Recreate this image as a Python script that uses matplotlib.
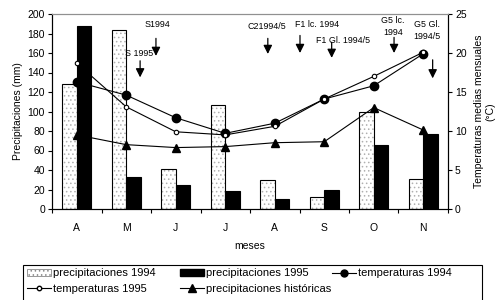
import numpy as np
import matplotlib
matplotlib.use('Agg')
from matplotlib import pyplot as plt
import matplotlib.patches as mpatches
from matplotlib.lines import Line2D

plt.rcParams['font.family'] = ['Liberation Sans', 'DejaVu Sans']
plt.rcParams['font.size'] = 7.5
plt.rcParams['hatch.linewidth'] = 0.6

meses = ['A', 'M', 'J', 'J', 'A', 'S', 'O', 'N']
prec_1994 = [128, 184, 41, 107, 30, 12, 99, 31]
prec_1995 = [188, 33, 25, 18, 10, 20, 66, 77]
prec_hist = [76, 66, 63, 64, 68, 69, 104, 81]
temp_1994 = [16.3, 14.6, 11.7, 9.7, 11.0, 14.1, 15.8, 19.9]
temp_1995 = [18.7, 13.1, 9.9, 9.5, 10.6, 14.1, 17.0, 20.1]

# arrow annotations: label, text position (x, mm), arrow x, arrow top, arrow bottom (mm)
etiquetas = ['S1994', 'S 1995', 'C21994/5', 'F1 lc. 1994', 'F1 Gl. 1994/5', 'G5 lc.\n1994', 'G5 Gl.\n1994/5']
txt_x = [1.62, 1.27, 3.84, 4.85, 5.37, 6.39, 7.07]
txt_y = [189, 160, 187, 189, 173, 187, 183]
flecha_x = [1.60, 1.28, 3.86, 4.51, 5.15, 6.41, 7.19]
flecha_top = [175, 152, 175, 178, 171, 176, 153]
flecha_bot = [157, 135, 159, 160, 155, 160, 134]

x = np.arange(len(meses))
w = 0.29

fig = plt.figure(figsize=(5.02, 3.0), dpi=100)
ax = fig.add_axes([52 / 502, 1 - 209 / 300, 396 / 502, 195 / 300])
ax2 = ax.twinx()

ax.bar(x - w / 2, prec_1994, w, color='white', edgecolor='#b0b0b0', hatch='....', linewidth=0, zorder=2)
ax.bar(x - w / 2, prec_1994, w, color='none', edgecolor='black', linewidth=0.8, zorder=3)
ax.bar(x + w / 2, prec_1995, w, color='black', edgecolor='black', linewidth=0.8, zorder=3)
ax.plot(x, prec_hist, color='black', marker='^', markersize=6, linewidth=0.8, zorder=4)

ax2.plot(x, temp_1994, color='black', marker='o', markersize=6, linewidth=0.8, zorder=4)
ax2.plot(x, temp_1995, color='black', marker='o', markersize=3.2, markerfacecolor='white',
         markeredgewidth=0.8, linewidth=0.8, zorder=4)

for lab, tx, ty, fx, ft, fb in zip(etiquetas, txt_x, txt_y, flecha_x, flecha_top, flecha_bot):
    ax.text(tx, ty, lab, ha='center', va='center', fontsize=6.4, linespacing=1.5, zorder=6)
    ax.annotate('', xy=(fx, fb), xytext=(fx, ft),
                arrowprops=dict(arrowstyle='-|>', color='black', lw=0.9, mutation_scale=13,
                                shrinkA=0, shrinkB=0),
                zorder=6)

ax.set_xlim(-0.5, 7.5)
ax.set_ylim(0, 200)
ax.set_yticks(range(0, 201, 20))
ax2.set_ylim(0, 25)
ax2.set_yticks(range(0, 26, 5))

ax.set_xticks(np.arange(-0.5, 8, 1))
ax.set_xticklabels([])
ax.set_xticks(x, minor=True)
ax.set_xticklabels(meses, minor=True)
ax.tick_params(axis='x', which='minor', length=0, pad=10)
ax.tick_params(axis='x', which='major', length=3, direction='out')
ax.tick_params(axis='y', length=3, pad=2)
ax2.tick_params(axis='y', length=3, pad=2)

for a in (ax, ax2):
    for s in a.spines.values():
        s.set_linewidth(0.8)
    a.spines['top'].set_color('#909090')

ax.set_ylabel('Precipitaciones (mm)', labelpad=3)
ax2.set_ylabel('Temperaturas medias mensuales\n(°C)', labelpad=5)
ax.set_xlabel('meses', labelpad=6)

# legend: three columns placed like the original, with one frame round them
h_p94 = mpatches.Patch(facecolor='white', edgecolor='#888888', hatch='....', linewidth=0.6)
h_p95 = mpatches.Patch(facecolor='black', edgecolor='black')
h_t94 = Line2D([], [], color='black', marker='o', markersize=5, linewidth=0.8)
h_t95 = Line2D([], [], color='black', marker='o', markersize=3.2, markerfacecolor='white', linewidth=0.8)
h_hist = Line2D([], [], color='black', marker='^', markersize=5.5, linewidth=0.8)

columnas = [([h_p94, h_t95], ['precipitaciones 1994', 'temperaturas 1995']),
            ([h_p95, h_hist], ['precipitaciones 1995', 'precipitaciones históricas']),
            ([h_t94], ['temperaturas 1994'])]
col_x = [27, 180, 332]
for (hs, ls), cx in zip(columnas, col_x):
    fig.legend(hs, ls, loc='upper left', bbox_to_anchor=(cx / 502, 1 - 268.5 / 300),
               frameon=False, fontsize=8, handlelength=2.15, handletextpad=0.2,
               borderpad=0, borderaxespad=0, labelspacing=0.45, handleheight=0.6)

marco = mpatches.Rectangle((22.5 / 502, -0.02), 459.5 / 502, 0.02 + 35 / 300,
                           transform=fig.transFigure, facecolor='none',
                           edgecolor='black', linewidth=0.8)
fig.patches.append(marco)

plt.savefig('out.png', dpi=100)
